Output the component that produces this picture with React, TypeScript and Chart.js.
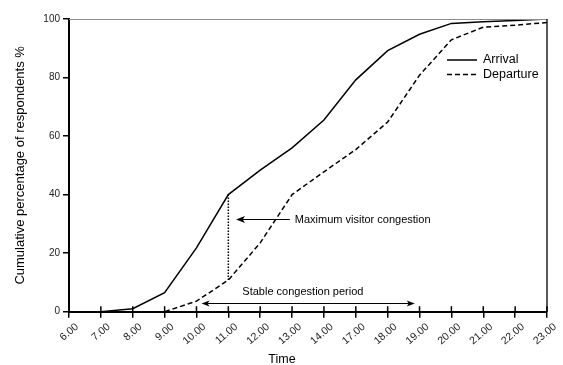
import React, { useEffect, useRef } from "react";
import { Chart, registerables } from "chart.js";

Chart.register(...registerables);

const timeLabels = ["6.00", "7.00", "8.00", "9.00", "10.00", "11.00", "12.00", "13.00", "14.00", "17.00", "18.00", "19.00", "20.00", "21.00", "22.00", "23.00"];
const arrivalPct = [null, 0, 1, 6.5, 21.8, 40, 48.4, 56, 65.5, 79.2, 89.2, 94.8, 98.5, 99.1, 99.5, 100];
const departurePct = [null, 0, 0, 0, 3.6, 10.8, 23.5, 40, 47.8, 55.4, 64.8, 80.8, 92.9, 97.2, 97.9, 98.8];
const yTickValues = [0, 20, 40, 60, 80, 100];

const seriesNames = ["Arrival", "Departure"];
const yTitle = "Cumulative percentage of respondents %";
const xTitle = "Time";
const maxNote = "Maximum visitor congestion";
const stableNote = "Stable congestion period";

// annotation anchors in axis units (category index, percent)
const maxIndex = 5;
const maxArrow = { fromX: 6.93, toX: 5.24, y: 31.7 };
const stableArrow = { fromX: 4.16, toX: 10.85, y: 2.9, textX: 7.34, textY: 6.7 };

const FONT = "'Liberation Sans', Arial, sans-serif";

function arrowHead(ctx: CanvasRenderingContext2D, x: number, y: number, dir: number, len: number, half: number) {
  ctx.beginPath();
  ctx.moveTo(x, y);
  ctx.lineTo(x - dir * len, y - half);
  ctx.lineTo(x - dir * len * 0.75, y);
  ctx.lineTo(x - dir * len, y + half);
  ctx.closePath();
  ctx.fill();
}

const overlay = {
  id: "overlay",
  afterDraw(chart: any) {
    const { ctx, chartArea: a } = chart;
    const xs = chart.scales.x;
    const ys = chart.scales.y;
    ctx.save();
    // top frame line
    ctx.strokeStyle = "#8c8c8c";
    ctx.lineWidth = 1;
    ctx.beginPath();
    ctx.moveTo(a.left, a.top + 0.5);
    ctx.lineTo(a.right, a.top + 0.5);
    ctx.stroke();
    // right frame line
    ctx.strokeStyle = "#222";
    ctx.lineWidth = 1.5;
    ctx.beginPath();
    ctx.moveTo(a.right, a.top);
    ctx.lineTo(a.right, a.bottom);
    ctx.stroke();
    // x ticks crossing into the plot
    ctx.strokeStyle = "#000";
    ctx.lineWidth = 1.5;
    for (let i = 0; i < timeLabels.length; i++) {
      const px = xs.getPixelForTick(i);
      ctx.beginPath();
      ctx.moveTo(px, a.bottom - 5.5);
      ctx.lineTo(px, a.bottom);
      ctx.stroke();
    }
    // dotted congestion line
    const dx = xs.getPixelForValue(maxIndex);
    ctx.setLineDash([1.5, 1.5]);
    ctx.lineWidth = 1.5;
    ctx.beginPath();
    ctx.moveTo(dx, ys.getPixelForValue(arrivalPct[maxIndex] as number));
    ctx.lineTo(dx, ys.getPixelForValue(departurePct[maxIndex] as number));
    ctx.stroke();
    ctx.setLineDash([]);

    ctx.fillStyle = "#000";
    ctx.lineWidth = 1;
    // maximum congestion arrow
    const my = Math.round(ys.getPixelForValue(maxArrow.y)) + 0.5;
    const mx1 = xs.getPixelForValue(maxArrow.fromX);
    const mx2 = xs.getPixelForValue(maxArrow.toX);
    ctx.beginPath();
    ctx.moveTo(mx1, my);
    ctx.lineTo(mx2 + 4, my);
    ctx.stroke();
    arrowHead(ctx, mx2, my, -1, 9, 3.5);
    ctx.font = `11px ${FONT}`;
    ctx.textAlign = "left";
    ctx.textBaseline = "middle";
    ctx.fillText(maxNote, mx1 + 5, my);

    // stable congestion arrow
    const sy = Math.round(ys.getPixelForValue(stableArrow.y)) + 0.5;
    const sx1 = xs.getPixelForValue(stableArrow.fromX);
    const sx2 = xs.getPixelForValue(stableArrow.toX);
    ctx.beginPath();
    ctx.moveTo(sx1 + 4, sy);
    ctx.lineTo(sx2 - 4, sy);
    ctx.stroke();
    arrowHead(ctx, sx1, sy, -1, 8, 3);
    arrowHead(ctx, sx2, sy, 1, 8, 3);
    ctx.textAlign = "center";
    ctx.fillText(stableNote, xs.getPixelForValue(stableArrow.textX), ys.getPixelForValue(stableArrow.textY));

    // legend
    const ds = chart.data.datasets;
    const legX1 = 447, legX2 = 477, legY = [60, 74.5];
    ctx.font = `12.5px ${FONT}`;
    ctx.textAlign = "left";
    for (let i = 0; i < ds.length; i++) {
      ctx.strokeStyle = ds[i].borderColor;
      ctx.lineWidth = ds[i].borderWidth;
      ctx.setLineDash(ds[i].borderDash || []);
      ctx.beginPath();
      ctx.moveTo(legX1, legY[i]);
      ctx.lineTo(legX2, legY[i]);
      ctx.stroke();
      ctx.setLineDash([]);
      ctx.fillText(ds[i].label, legX2 + 6, legY[i]);
    }

    // axis titles
    ctx.font = `12.5px ${FONT}`;
    ctx.textAlign = "center";
    ctx.textBaseline = "alphabetic";
    ctx.fillText(xTitle, 282, 363);
    ctx.save();
    ctx.font = `13px ${FONT}`;
    ctx.translate(24, (a.top + a.bottom) / 2);
    ctx.rotate(-Math.PI / 2);
    ctx.fillText(yTitle, 0, 0);
    ctx.restore();
    ctx.restore();
  },
};

export default function App() {
  const ref = useRef<HTMLCanvasElement | null>(null);
  useEffect(() => {
    document.body.style.margin = "0";
    const canvas = ref.current;
    if (!canvas) return;
    const chart = new Chart(canvas, {
      type: "line",
      data: {
        labels: timeLabels,
        datasets: [
          {
            label: seriesNames[0],
            data: arrivalPct,
            borderColor: "#000",
            borderWidth: 1.5,
            pointRadius: 0,
            tension: 0,
            fill: false,
          },
          {
            label: seriesNames[1],
            data: departurePct,
            borderColor: "#000",
            borderWidth: 1.5,
            borderDash: [5, 3],
            pointRadius: 0,
            tension: 0,
            fill: false,
          },
        ],
      },
      options: {
        animation: false,
        responsive: false,
        devicePixelRatio: 1,
        layout: { padding: { left: 0, top: 19, right: 16, bottom: 0 } },
        plugins: { legend: { display: false }, tooltip: { enabled: false } },
        scales: {
          x: {
            type: "category",
            offset: false,
            grid: { display: true, drawOnChartArea: false, drawTicks: true, tickLength: 6, color: "#000", lineWidth: 1.5 },
            border: { display: true, color: "#000", width: 2 },
            ticks: {
              autoSkip: false,
              minRotation: 40,
              maxRotation: 40,
              labelOffset: 8,
              padding: 3,
              color: "#222",
              font: { family: FONT, size: 10.5 },
            },
            afterFit: (scale: any) => {
              scale.height = 53.3;
            },
          },
          y: {
            min: 0,
            max: 100,
            afterBuildTicks: (scale: any) => {
              scale.ticks = yTickValues.map((v) => ({ value: v }));
            },
            grid: { display: true, drawOnChartArea: false, drawTicks: true, tickLength: 6, color: "#000", lineWidth: 1.5 },
            border: { display: true, color: "#000", width: 2 },
            ticks: { padding: 3, color: "#222", font: { family: FONT, size: 10 } },
            afterFit: (scale: any) => {
              scale.width = 69;
            },
          },
        },
      },
      plugins: [overlay],
    });
    return () => chart.destroy();
  }, []);
  return <canvas ref={ref} width={563} height={365} style={{ display: "block" }} />;
}
